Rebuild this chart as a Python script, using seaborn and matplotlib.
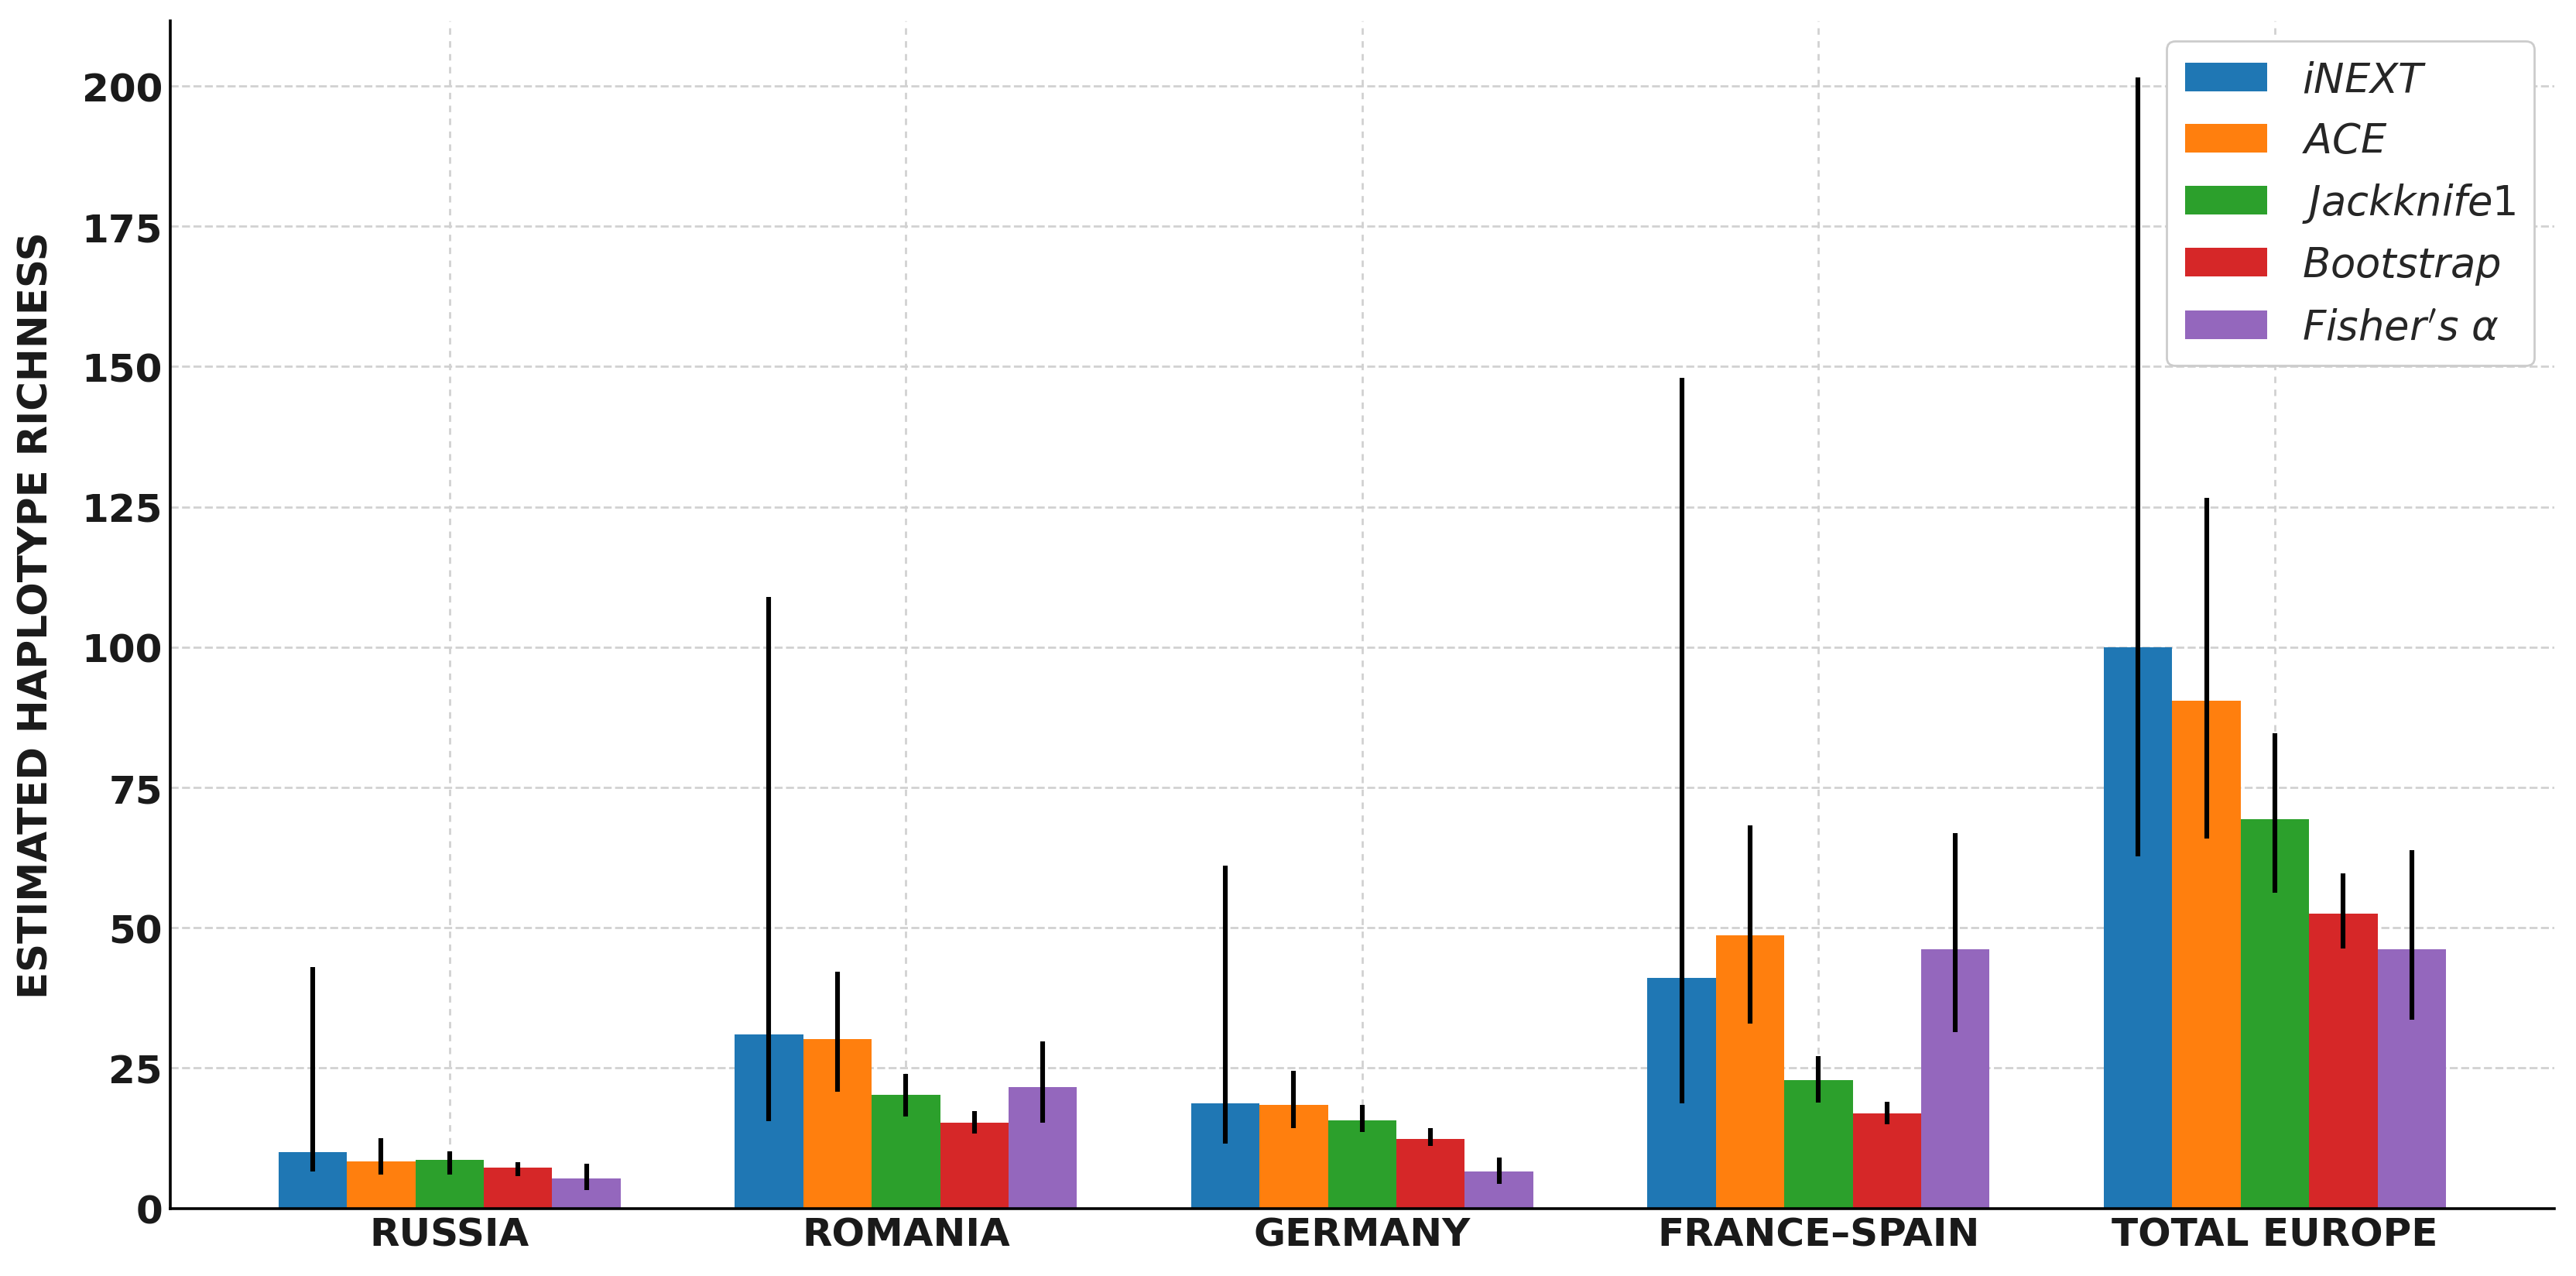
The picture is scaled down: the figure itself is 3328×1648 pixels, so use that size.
#################################################################
## Estimated haplotype richness per region, five estimators
#################################################################

'''IMPORTS'''
import numpy as np
import pandas as pd
import matplotlib
matplotlib.use('Agg')
import matplotlib.pyplot as plt
import seaborn as sns

'''DATA'''
regions = ['RUSSIA', 'ROMANIA', 'GERMANY', 'FRANCE–SPAIN', 'TOTAL EUROPE']
methods = ['$iNEXT$', '$ACE$', '$Jackknife1$', '$Bootstrap$', "$Fisher's\\ \\alpha$"]
colors = ['#1f77b4', '#ff7f0e', '#2ca02c', '#d62728', '#9467bd']

# estimates
inext = [10.0, 31.0, 18.7, 41.0, 100.0]
ace = [8.3, 30.2, 18.5, 48.6, 90.5]
jack1 = [8.7, 20.2, 15.7, 22.9, 69.4]
boot = [7.2, 15.3, 12.4, 16.9, 52.5]
fisher = [5.3, 21.6, 6.5, 46.1, 46.2]

# lower / upper ends of the error bars
inext_lo = [6.5, 15.5, 11.5, 18.7, 62.7]
inext_hi = [43.0, 108.9, 61.1, 148.0, 201.5]
ace_lo = [6.0, 20.8, 14.3, 32.9, 65.9]
ace_hi = [12.5, 42.1, 24.5, 68.3, 126.6]
jack1_lo = [6.0, 16.4, 13.6, 18.9, 56.2]
jack1_hi = [10.1, 24.0, 18.5, 27.1, 84.6]
boot_lo = [5.8, 13.3, 11.1, 15.0, 46.3]
boot_hi = [8.2, 17.3, 14.3, 19.0, 59.7]
fisher_lo = [3.2, 15.3, 4.4, 31.4, 33.6]
fisher_hi = [8.0, 29.8, 9.0, 66.8, 63.8]

values = [inext, ace, jack1, boot, fisher]
lows = [inext_lo, ace_lo, jack1_lo, boot_lo, fisher_lo]
highs = [inext_hi, ace_hi, jack1_hi, boot_hi, fisher_hi]

'''MAIN'''
def main():
    rows = []
    for m, vals in zip(methods, values):
        for r, v in zip(regions, vals):
            rows.append({'region': r, 'method': m, 'richness': v})
    df = pd.DataFrame(rows)

    sns.set_style('whitegrid')
    fig, ax = plt.subplots(figsize=(16.64, 8.245), dpi=200)
    fig.subplots_adjust(left=0.066, right=0.9916, top=0.983, bottom=0.053)

    sns.barplot(data=df, x='region', y='richness', hue='method', hue_order=methods,
                order=regions, palette=colors, saturation=1, width=0.75,
                errorbar=None, linewidth=0, ax=ax)

    # asymmetric error bars on the bar centres
    for cont, vals, lo, hi in zip(ax.containers, values, lows, highs):
        xs = [p.get_x() + p.get_width() / 2 for p in cont.patches]
        vals = np.array(vals)
        yerr = [vals - np.array(lo), np.array(hi) - vals]
        ax.errorbar(xs, vals, yerr=yerr, fmt='none', ecolor='black',
                    elinewidth=2.2, capsize=0, zorder=5)

    ax.set_xlim(-0.6125, 4.6125)
    ax.set_ylim(0, 211.6)
    ax.set_yticks(np.arange(0, 201, 25))
    ax.grid(True, axis='y', linestyle='--', color='0.82', linewidth=1.0)
    ax.grid(True, axis='x', linestyle=(0, (3, 3)), color='0.82', linewidth=1.0)
    ax.set_axisbelow(True)

    for s in ['top', 'right']:
        ax.spines[s].set_visible(False)
    for s in ['left', 'bottom']:
        ax.spines[s].set_color('black')
        ax.spines[s].set_linewidth(1.3)

    ax.tick_params(axis='both', direction='in', length=5, width=1, colors='black',
                   labelsize=18)
    for lbl in ax.get_xticklabels() + ax.get_yticklabels():
        lbl.set_fontweight('bold')
        lbl.set_color('#1a1a1a')

    ax.set_xlabel('')
    ax.set_ylabel('ESTIMATED HAPLOTYPE RICHNESS', fontsize=18.5, fontweight='bold',
                  color='#1a1a1a', labelpad=12)

    handles, labels = ax.get_legend_handles_labels()
    ax.legend(handles, labels, loc='upper right', fontsize=19, frameon=True,
              fancybox=True, edgecolor='0.8', framealpha=1, title=None,
              handlelength=2.0, handletextpad=0.85, labelspacing=0.5,
              borderpad=0.45)

    fig.savefig('out.png', dpi=200)

if __name__ == "__main__":
    main()
